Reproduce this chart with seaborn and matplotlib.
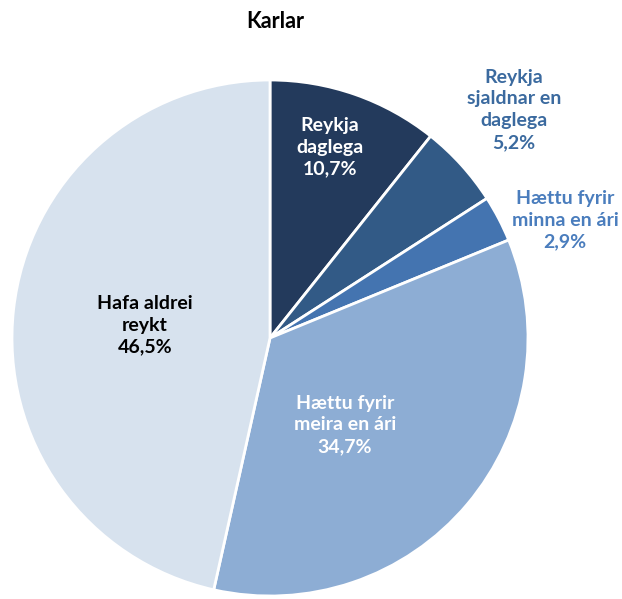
import matplotlib
matplotlib.use("Agg")
import matplotlib.pyplot as plt
import seaborn as sns

sns.set_theme(style="white")
plt.rcParams['font.family'] = ['Lato', 'DejaVu Sans']

# data
categories = ['Reykja\ndaglega', 'Reykja\nsjaldnar en\ndaglega', 'Hættu fyrir\nminna en ári',
              'Hættu fyrir\nmeira en ári', 'Hafa aldrei\nreykt']
values = [10.7, 5.2, 2.9, 34.7, 46.5]
colors = ['#233A5C', '#325A86', '#4474B0', '#8DADD4', '#D7E2EE']
label_colors = ['white', '#3B6A9F', '#4A7DBD', 'white', 'black']
# label positions (axes data units, pie radius = 1)
label_pos = [(0.233, 0.74), (0.946, 0.884), (1.143, 0.457), (0.29, -0.337), (-0.484, 0.05)]

fig = plt.figure(figsize=(6.22, 5.99), dpi=100)
ax = fig.add_axes([12 / 622, 3 / 599, 516 / 622, 516 / 599])

wedges, _ = ax.pie(values, colors=colors, startangle=90, counterclock=False,
                   wedgeprops=dict(edgecolor='white', linewidth=2))
ax.set_xlim(-1, 1)
ax.set_ylim(-1, 1)
ax.set_aspect('equal')

for cat, v, (x, y), c in zip(categories, values, label_pos, label_colors):
    txt = f"{cat}\n{v:.1f}%".replace('.', ',')
    ax.text(x, y, txt, ha='center', va='center', color=c, fontsize=14,
            fontweight='bold', linespacing=1.35, clip_on=False)

fig.text(275 / 622, 1 - 22 / 599, 'Karlar', ha='center', va='center',
         fontsize=15.5, fontweight='bold', color='black')

fig.savefig('out.png', dpi=100)
